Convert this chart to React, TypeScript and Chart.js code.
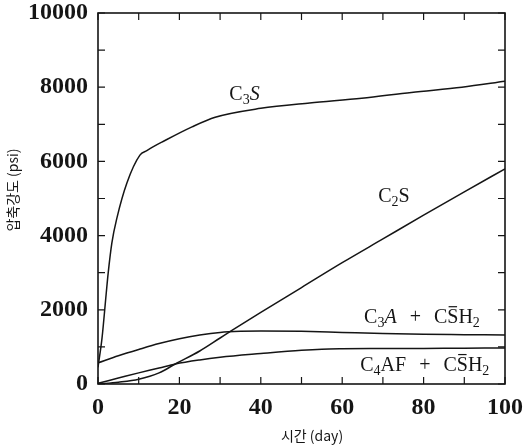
import { useEffect, useRef } from 'react';
import { Chart, registerables } from 'chart.js';

Chart.register(...registerables);

// ---- data ----
const c3sDays = [0, 1, 2, 2.5, 3.4, 4.7, 7.1, 10.3, 12, 13.5, 15.7, 23.1, 28.8, 40, 52, 64.8, 77, 89.4, 100];
const c3sPsi = [450, 1250, 2420, 2990, 3800, 4500, 5420, 6170, 6290, 6390, 6520, 6930, 7190, 7430, 7575, 7700, 7860, 8000, 8160];

const c2sDays = [0, 5, 10, 15, 19, 25, 30, 33, 40, 50, 60, 70, 80, 90, 100];
const c2sPsi = [0, 50, 130, 300, 540, 890, 1240, 1450, 1930, 2600, 3270, 3910, 4550, 5180, 5800];

const c3aDays = [0, 5, 10, 15, 20, 25, 30, 35, 40, 50, 60, 70, 80, 90, 100];
const c3aPsi = [570, 760, 930, 1090, 1220, 1320, 1390, 1420, 1430, 1420, 1390, 1360, 1340, 1330, 1320];

const c4afDays = [0, 5, 10, 15, 19, 25, 30, 40, 50, 55, 60, 70, 80, 90, 100];
const c4afPsi = [20, 160, 300, 430, 540, 650, 720, 820, 910, 940, 950, 955, 960, 965, 970];

const xMinorTicks = [0, 10, 20, 30, 40, 50, 60, 70, 80, 90, 100];
const yMinorTicks = [0, 1000, 2000, 3000, 4000, 5000, 6000, 7000, 8000, 9000, 10000];

const xTitle = '시간 (day)';
const yTitle = '압축강도 (psi)';

type Seg = { t: string; sub?: boolean; italic?: boolean; bar?: boolean; gap?: number };
type CurveLabel = { x: number; y: number; segs: Seg[] };

const curveLabels: CurveLabel[] = [
  { x: 36, y: 7830, segs: [{ t: 'C' }, { t: '3', sub: true }, { t: 'S', italic: true }] },
  { x: 72.7, y: 5090, segs: [{ t: 'C' }, { t: '2', sub: true }, { t: 'S' }] },
  {
    x: 79.6,
    y: 1830,
    segs: [
      { t: 'C' }, { t: '3', sub: true }, { t: 'A', italic: true },
      { t: '+', gap: 13 },
      { t: 'C' }, { t: 'S', bar: true }, { t: 'H' }, { t: '2', sub: true },
    ],
  },
  {
    x: 80.3,
    y: 540,
    segs: [
      { t: 'C' }, { t: '4', sub: true }, { t: 'AF' },
      { t: '+', gap: 13 },
      { t: 'C' }, { t: 'S', bar: true }, { t: 'H' }, { t: '2', sub: true },
    ],
  },
];

const SERIF = '"Liberation Serif", "DejaVu Serif", serif';
const INK = '#151515';

function drawRich(ctx: CanvasRenderingContext2D, segs: Seg[], cx: number, cy: number, size: number) {
  const fontOf = (s: Seg) => `${s.italic ? 'italic ' : ''}${s.sub ? Math.round(size * 0.68) : size}px ${SERIF}`;
  let total = 0;
  const widths = segs.map((s) => {
    ctx.font = fontOf(s);
    const w = ctx.measureText(s.t).width + (s.gap || 0) * 2;
    total += w;
    return w;
  });
  let x = cx - total / 2;
  const base = cy + size * 0.33;
  ctx.textAlign = 'left';
  ctx.textBaseline = 'alphabetic';
  segs.forEach((s, i) => {
    ctx.font = fontOf(s);
    const tx = x + (s.gap || 0);
    const ty = s.sub ? base + size * 0.2 : base;
    ctx.fillText(s.t, tx, ty);
    if (s.bar) {
      const w = ctx.measureText(s.t).width;
      ctx.beginPath();
      ctx.lineWidth = 1.2;
      ctx.moveTo(tx + w * 0.12, base - size * 0.8);
      ctx.lineTo(tx + w * 0.88, base - size * 0.8);
      ctx.stroke();
    }
    x += widths[i];
  });
}

const framePlugin = {
  id: 'frame',
  afterDatasetsDraw(chart: any) {
    const { ctx, chartArea: a, scales } = chart;
    const xs = scales.x;
    const ys = scales.y;
    ctx.save();
    ctx.strokeStyle = INK;
    ctx.fillStyle = INK;
    ctx.lineWidth = 1.6;
    ctx.strokeRect(a.left, a.top, a.right - a.left, a.bottom - a.top);
    ctx.lineWidth = 1.2;
    const tl = 7;
    ctx.beginPath();
    xMinorTicks.forEach((v) => {
      const px = xs.getPixelForValue(v);
      ctx.moveTo(px, a.bottom);
      ctx.lineTo(px, a.bottom - tl);
      ctx.moveTo(px, a.top);
      ctx.lineTo(px, a.top + tl);
    });
    yMinorTicks.forEach((v) => {
      const py = ys.getPixelForValue(v);
      ctx.moveTo(a.left, py);
      ctx.lineTo(a.left + tl, py);
      ctx.moveTo(a.right, py);
      ctx.lineTo(a.right - tl, py);
    });
    ctx.stroke();

    // curve labels
    curveLabels.forEach((l) => {
      drawRich(ctx, l.segs, xs.getPixelForValue(l.x), ys.getPixelForValue(l.y), 20);
    });

    // axis titles
    ctx.font = `14px "Noto Sans CJK KR", "Noto Sans", sans-serif`;
    ctx.textAlign = 'center';
    ctx.textBaseline = 'middle';
    ctx.fillText(xTitle, 312, 436);
    ctx.translate(13, 190);
    ctx.rotate(-Math.PI / 2);
    ctx.fillText(yTitle, 0, 0);
    ctx.restore();
  },
};

function toPoints(xs: number[], ys: number[]) {
  return xs.map((x, i) => ({ x, y: ys[i] }));
}

const plain = (v: any) => String(v);

export default function App() {
  const ref = useRef<HTMLCanvasElement | null>(null);
  useEffect(() => {
    document.body.style.margin = '0';
    if (!ref.current) return;
    const ds = (label: string, xs: number[], ys: number[]) => ({
      label,
      data: toPoints(xs, ys),
      borderColor: INK,
      borderWidth: 1.5,
      pointRadius: 0,
      fill: false,
      cubicInterpolationMode: 'monotone' as const,
    });
    const tickFont = { family: SERIF, size: 24, weight: 'bold' as const, lineHeight: 1 };
    const chart = new Chart(ref.current, {
      type: 'line',
      data: {
        datasets: [
          ds('C3S', c3sDays, c3sPsi),
          ds('C2S', c2sDays, c2sPsi),
          ds('C3A + CSH2', c3aDays, c3aPsi),
          ds('C4AF + CSH2', c4afDays, c4afPsi),
        ],
      },
      options: {
        animation: false,
        responsive: false,
        devicePixelRatio: 1,
        layout: { padding: { top: 13, right: 21, bottom: 0, left: 0 } },
        plugins: { legend: { display: false }, tooltip: { enabled: false } },
        scales: {
          x: {
            type: 'linear',
            min: 0,
            max: 100,
            ticks: { stepSize: 20, padding: 0, color: INK, font: tickFont, callback: plain },
            grid: { display: false, drawTicks: true, tickLength: 12 },
            border: { display: false },
            afterFit: (s: any) => { s.height = 61; },
          },
          y: {
            type: 'linear',
            min: 0,
            max: 10000,
            ticks: { stepSize: 2000, padding: 0, color: INK, font: tickFont, callback: plain },
            grid: { display: false, drawTicks: true, tickLength: 10 },
            border: { display: false },
            afterFit: (s: any) => { s.width = 98; },
          },
        },
      },
      plugins: [framePlugin],
    });
    return () => chart.destroy();
  }, []);
  return (
    <div style={{ position: 'absolute', left: 0, top: 0, width: 526, height: 445, background: '#fff' }}>
      <canvas ref={ref} width={526} height={445} />
    </div>
  );
}
